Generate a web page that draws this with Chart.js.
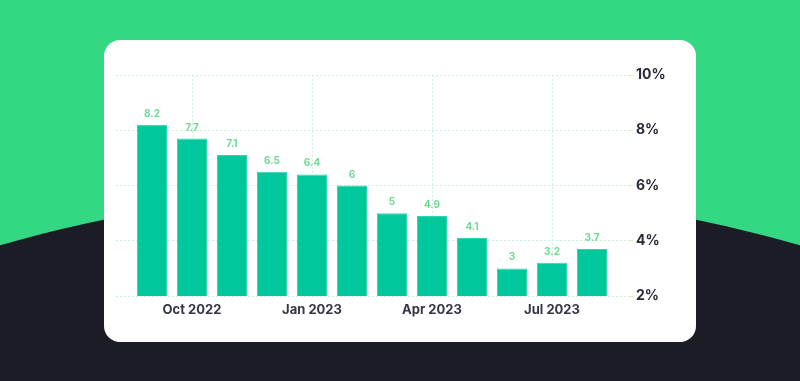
<!DOCTYPE html>
<html>
<head>
<meta charset="utf-8">
<script src="https://cdn.jsdelivr.net/npm/chart.js@4/dist/chart.umd.min.js"></script>
<style>
  html, body { margin: 0; padding: 0; }
  body { width: 800px; height: 381px; overflow: hidden; position: relative; background: #34d883; }
  #dark { position: absolute; left: -600px; top: 190px; width: 2000px; height: 1324px; border-radius: 50%; background: #1c1c27; }
  #card { position: absolute; left: 104px; top: 40px; width: 592px; height: 302px; border-radius: 16px; background: #ffffff; }
  #wrap { position: absolute; left: 0; top: 0; width: 800px; height: 381px; }
</style>
</head>
<body>
<div id="dark"></div>
<div id="card"></div>
<div id="wrap"><canvas id="c" width="800" height="381"></canvas></div>
<script>
const months = ['Sep 2022','Oct 2022','Nov 2022','Dec 2022','Jan 2023','Feb 2023','Mar 2023','Apr 2023','May 2023','Jun 2023','Jul 2023','Aug 2023'];
const inflation = [8.2, 7.7, 7.1, 6.5, 6.4, 6, 5, 4.9, 4.1, 3, 3.2, 3.7];
const xTickIndex = [1, 4, 7, 10];
const xTickLabels = ['Oct 2022', 'Jan 2023', 'Apr 2023', 'Jul 2023'];
const yTicks = [2, 4, 6, 8, 10];

const points = inflation.map((v, i) => ({ x: i, y: v }));

const valueLabels = {
  id: 'valueLabels',
  afterDatasetsDraw(chart) {
    const ctx = chart.ctx;
    const meta = chart.getDatasetMeta(0);
    ctx.save();
    ctx.font = 'bold 10px Inter';
    ctx.fillStyle = '#6fd994';
    ctx.textAlign = 'center';
    ctx.textBaseline = 'middle';
    meta.data.forEach((el, i) => {
      ctx.fillText(String(inflation[i]), el.x, el.y - 11);
    });
    ctx.restore();
  }
};

new Chart(document.getElementById('c'), {
  type: 'bar',
  data: {
    datasets: [{
      data: points,
      backgroundColor: '#00c89c',
      borderColor: '#2fd6ad',
      borderWidth: 1,
      barPercentage: 0.75,
      categoryPercentage: 1
    }]
  },
  options: {
    responsive: false,
    animation: false,
    events: [],
    layout: { padding: { left: 116, top: 75, right: 0, bottom: 0 } },
    plugins: { legend: { display: false }, tooltip: { enabled: false } },
    scales: {
      x: {
        type: 'linear',
        min: -0.9,
        max: 11.95,
        offset: false,
        afterBuildTicks(scale) { scale.ticks = xTickIndex.map(v => ({ value: v })); },
        afterFit(scale) { scale.height = 85; },
        ticks: {
          autoSkip: false,
          maxRotation: 0,
          padding: 6,
          color: '#353645',
          font: { family: 'Inter', weight: 'bold', size: 13 },
          callback(value) { const k = xTickIndex.indexOf(value); return k >= 0 ? xTickLabels[k] : ''; }
        },
        grid: { offset: false, color: '#cdf3df', drawTicks: false, lineWidth: 1 },
        border: { display: false, dash: [2, 2] }
      },
      y: {
        position: 'right',
        min: 2,
        max: 10,
        afterBuildTicks(scale) { scale.ticks = yTicks.map(v => ({ value: v })); },
        afterFit(scale) { scale.width = 170; },
        ticks: {
          padding: 3,
          color: '#2a2a38',
          font: { family: 'Inter', weight: 'bold', size: 14 },
          callback(value) { return value + '%'; }
        },
        grid: { color: '#cdf3df', tickColor: '#e3efbb', tickLength: 3, lineWidth: 1 },
        border: { display: false, dash: [2, 2] }
      }
    }
  },
  plugins: [valueLabels]
});
</script>
</body>
</html>
